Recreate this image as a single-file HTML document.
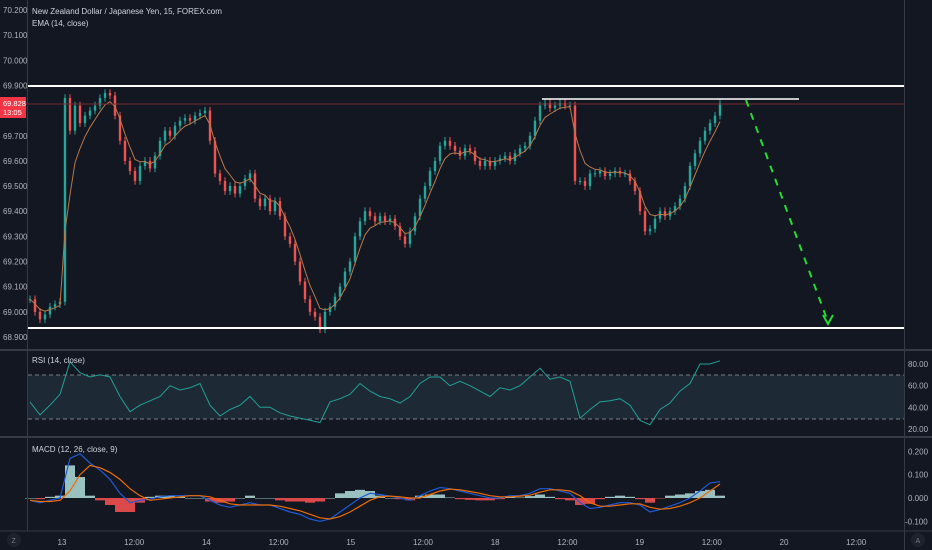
<!DOCTYPE html>
<html><head><meta charset="utf-8"><style>
html,body{margin:0;padding:0;background:#131722;}
svg{display:block;font-family:"Liberation Sans",sans-serif;}
</style></head><body>
<svg id="c" width="932" height="550" viewBox="0 0 932 550">
<rect x="0" y="0" width="932" height="550" fill="#131722"/>
<rect x="28" y="375" width="876" height="44" fill="#1d2a35"/>
<line x1="28" y1="375" x2="904" y2="375" stroke="#787b86" stroke-dasharray="4,3"/>
<line x1="28" y1="419" x2="904" y2="419" stroke="#787b86" stroke-dasharray="4,3"/>
<g id="marks"></g>
<line x1="0" y1="104" x2="904" y2="104" stroke="#7a2a30" stroke-width="1"/>
<line x1="28" y1="86" x2="904" y2="86" stroke="#ffffff" stroke-width="2"/>
<line x1="28" y1="328" x2="904" y2="328" stroke="#ffffff" stroke-width="2"/>
<line x1="542" y1="99" x2="799" y2="99" stroke="#ffffff" stroke-width="1.5"/>
<line x1="746" y1="100" x2="828" y2="322" stroke="#22dd33" stroke-width="2" stroke-dasharray="7,7"/>
<polyline points="823,315 828,324 833,315" fill="none" stroke="#22dd33" stroke-width="2"/>
<line x1="0" y1="350" x2="932" y2="350" stroke="#363a45" stroke-width="2"/>
<line x1="0" y1="437" x2="932" y2="437" stroke="#363a45" stroke-width="2"/>
<line x1="0" y1="531" x2="932" y2="531" stroke="#363a45" stroke-width="1"/>
<line x1="27.5" y1="0" x2="27.5" y2="531" stroke="#363a45"/>
<line x1="904.5" y1="0" x2="904.5" y2="550" stroke="#363a45"/>
<g id="axes" font-size="8" fill="#b2b5be"></g>
<text x="32" y="14" font-size="8" fill="#d1d4dc">New Zealand Dollar / Japanese Yen, 15, FOREX.com</text>
<text x="32" y="26" font-size="8" fill="#d1d4dc">EMA (14, close)</text>
<text x="32" y="363" font-size="8" fill="#d1d4dc">RSI (14, close)</text>
<text x="32" y="452" font-size="8" fill="#d1d4dc">MACD (12, 26, close, 9)</text>
<rect x="0" y="97" width="26" height="21" fill="#f23645"/>
<text x="3" y="106" font-size="7.5" fill="#fff">69.828</text>
<text x="3" y="115" font-size="7.5" fill="#fff">13:05</text>
<circle cx="14" cy="540" r="7" fill="#1e222d"/>
<text x="11.5" y="543" font-size="7" fill="#787b86">Z</text>
<circle cx="918" cy="540" r="7" fill="#1e222d"/>
<text x="915.5" y="543" font-size="7" fill="#787b86">A</text>
</svg>
<script>
const closes=[69.05,69.00,68.97,68.99,69.02,69.03,69.04,69.85,69.72,69.82,69.75,69.78,69.80,69.82,69.85,69.87,69.86,69.78,69.68,69.60,69.56,69.52,69.58,69.60,69.57,69.62,69.68,69.72,69.70,69.74,69.76,69.77,69.76,69.78,69.79,69.80,69.68,69.55,69.52,69.48,69.50,69.47,69.50,69.53,69.55,69.45,69.42,69.45,69.40,69.44,69.38,69.30,69.27,69.20,69.12,69.05,69.00,68.98,68.93,69.00,69.02,69.06,69.10,69.16,69.20,69.30,69.36,69.40,69.38,69.36,69.38,69.36,69.37,69.34,69.30,69.27,69.32,69.38,69.45,69.50,69.56,69.60,69.66,69.68,69.66,69.64,69.62,69.65,69.64,69.60,69.58,69.60,69.58,69.60,69.61,69.62,69.60,69.63,69.65,69.66,69.70,69.76,69.82,69.83,69.81,69.82,69.83,69.82,69.82,69.52,69.52,69.50,69.55,69.55,69.56,69.54,69.55,69.56,69.55,69.55,69.52,69.48,69.40,69.32,69.33,69.37,69.40,69.38,69.40,69.42,69.45,69.50,69.58,69.63,69.68,69.72,69.75,69.78,69.83];
const rsiValues=[45,33,42,52,82,72,68,70,68,50,36,42,46,50,60,56,58,62,42,32,38,42,50,40,40,35,32,30,28,26,45,48,52,62,55,50,48,44,50,62,68,68,60,64,60,55,50,58,56,60,68,76,66,68,64,30,38,45,46,48,42,28,24,38,44,55,62,80,80,83];
const macdValues=[-0.01,-0.02,-0.01,0.0,0.17,0.19,0.15,0.12,0.08,0.02,-0.02,-0.01,-0.005,0.005,0.01,0.01,0.01,0.01,-0.01,-0.03,-0.04,-0.03,-0.02,-0.03,-0.03,-0.045,-0.06,-0.07,-0.09,-0.1,-0.09,-0.06,-0.03,0.0,0.02,0.015,0.008,0.0,-0.01,0.01,0.03,0.045,0.04,0.03,0.02,0.01,0.0,0.0,0.01,0.01,0.02,0.04,0.04,0.03,0.02,-0.02,-0.045,-0.04,-0.03,-0.02,-0.02,-0.03,-0.06,-0.05,-0.035,-0.02,0.0,0.03,0.065,0.07];
const signalValues=[-0.01,-0.015,-0.015,-0.01,0.03,0.1,0.14,0.13,0.11,0.08,0.04,0.01,-0.01,-0.005,0.0,0.005,0.01,0.01,0.005,-0.01,-0.025,-0.03,-0.03,-0.03,-0.03,-0.035,-0.045,-0.055,-0.07,-0.085,-0.09,-0.08,-0.06,-0.035,-0.01,0.005,0.008,0.005,0.0,0.0,0.015,0.03,0.038,0.035,0.028,0.02,0.01,0.005,0.005,0.008,0.012,0.025,0.035,0.035,0.03,0.01,-0.02,-0.035,-0.035,-0.03,-0.025,-0.025,-0.04,-0.048,-0.045,-0.035,-0.02,0.0,0.03,0.06];
const priceTicks=[70.2,70.1,70.0,69.9,69.7,69.6,69.5,69.4,69.3,69.2,69.1,69.0,68.9];
const rsiTicks=[80,60,40,20];
const macdTicks=[0.2,0.1,0,-0.1];
const timeLabels=["13","12:00","14","12:00","15","12:00","18","12:00","19","12:00","20","12:00"];

const NS="http://www.w3.org/2000/svg";
const priceY=p=>10+(70.2-p)*251.5;
const rsiY=v=>364+(80-v)*65/60;
const macdY=v=>498-v*233;
const barX=i=>30+i*5;
const indX=i=>30+i*10;
const timeX=i=>62+i*72.2;
const marks=document.getElementById('marks');
const axes=document.getElementById('axes');
function mk(tag,attrs,parent){const e=document.createElementNS(NS,tag);for(const k in attrs)e.setAttribute(k,attrs[k]);parent.appendChild(e);return e;}

closes.forEach((c,i)=>{
  const o=i===0?c:closes[i-1];
  const up=c>=o;const col=up?'#26a69a':'#ef5350';
  const hi=Math.max(o,c)+0.015,lo=Math.min(o,c)-0.015;
  const w=mk('line',{x1:barX(i),x2:barX(i),y1:priceY(hi),y2:priceY(lo),stroke:col,'stroke-width':1},marks);
  
  
  const top=priceY(Math.max(o,c)),h=Math.max(1,priceY(Math.min(o,c))-top);
  const r=mk('rect',{x:barX(i)-1.2,y:top,width:2.4,height:h,fill:col},marks);
  
  
});
let ema=closes[0],pts=[];const k=0.36;
closes.forEach((c,i)=>{ema=i===0?c:c*k+ema*(1-k);pts.push(barX(i)+','+priceY(ema).toFixed(1));});
const emaLine=mk('polyline',{points:pts.join(' '),fill:'none',stroke:'#b8794a','stroke-width':1},marks);


const rsiLine=mk('polyline',{points:rsiValues.map((v,i)=>indX(i)+','+rsiY(v).toFixed(1)).join(' '),fill:'none',stroke:'#22a096','stroke-width':1},marks);


macdValues.forEach((m,i)=>{
  const h=m-signalValues[i];const y0=macdY(0),y1=macdY(h);
  const b=mk('rect',{x:indX(i)-5,y:Math.min(y0,y1),width:10,height:Math.max(0.5,Math.abs(y1-y0)),fill:h>=0?'#b2dfdb':'#ff5252',opacity:0.85},marks);
  
  
});
const mL=mk('polyline',{points:macdValues.map((v,i)=>indX(i)+','+macdY(v).toFixed(1)).join(' '),fill:'none',stroke:'#1e5bd6','stroke-width':1.2},marks);


const sL=mk('polyline',{points:signalValues.map((v,i)=>indX(i)+','+macdY(v).toFixed(1)).join(' '),fill:'none',stroke:'#ef6c00','stroke-width':1.2},marks);


priceTicks.forEach(p=>{
  const t=mk('text',{x:3,y:priceY(p)+3},axes);t.textContent=p.toFixed(3);
  
  
});
rsiTicks.forEach(v=>{
  const t=mk('text',{x:908,y:rsiY(v)+3},axes);t.textContent=v.toFixed(2);
  
  
});
macdTicks.forEach(v=>{
  const t=mk('text',{x:v<0?905:908,y:macdY(v)+3},axes);t.textContent=v.toFixed(3);
  
  
});
timeLabels.forEach((s,i)=>{
  const t=mk('text',{x:timeX(i),y:545,'text-anchor':'middle'},axes);t.textContent=s;
  
  
});
</script>
</body></html>
